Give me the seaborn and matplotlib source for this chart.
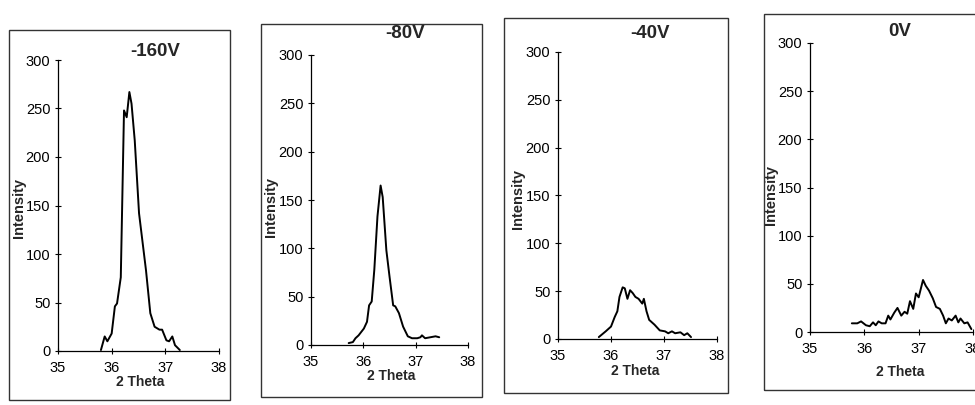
import numpy as np
import pandas as pd
import matplotlib
matplotlib.use("Agg")
import matplotlib.pyplot as plt
import seaborn as sns
from matplotlib.patches import Rectangle

# ---- data ----
titles = ["-160V", "-80V", "-40V", "0V"]

theta_160 = [35.80, 35.87, 35.92, 36.00, 36.06, 36.10, 36.17, 36.23, 36.28, 36.33, 36.37,
             36.43, 36.51, 36.64, 36.72, 36.80, 36.89, 36.94, 37.02, 37.07, 37.13, 37.18, 37.27]
int_160 = [1, 15, 10, 18, 46, 49, 76, 248, 241, 267, 255,
           217, 142, 83, 39, 25, 22, 22, 11, 10, 15, 6, 1]

theta_80 = [35.72, 35.80, 35.85, 35.91, 36.01, 36.07, 36.11, 36.16, 36.21, 36.27, 36.33,
            36.37, 36.44, 36.50, 36.57, 36.61, 36.68, 36.76, 36.85, 36.93, 37.03, 37.09,
            37.12, 37.18, 37.28, 37.38, 37.45]
int_80 = [2, 3, 7, 10, 17, 24, 41, 45, 78, 133, 165,
          153, 98, 71, 41, 40, 33, 19, 9, 7, 7, 8,
          10, 7, 8, 9, 8]

theta_40 = [35.77, 35.90, 36.00, 36.07, 36.12, 36.16, 36.22, 36.26, 36.31, 36.36, 36.41,
            36.46, 36.52, 36.59, 36.62, 36.67, 36.72, 36.82, 36.92, 37.02, 37.08, 37.15,
            37.21, 37.31, 37.38, 37.44, 37.51]
int_40 = [2, 8, 13, 23, 29, 44, 54, 53, 42, 51, 48,
          44, 42, 37, 42, 29, 20, 15, 9, 8, 6, 8,
          6, 7, 4, 6, 2]

theta_0 = [35.77, 35.87, 35.94, 36.03, 36.10, 36.16, 36.21, 36.26, 36.32, 36.39, 36.44,
           36.48, 36.55, 36.61, 36.68, 36.74, 36.79, 36.84, 36.90, 36.95, 37.00, 37.08,
           37.13, 37.19, 37.26, 37.32, 37.39, 37.45, 37.50, 37.55, 37.61, 37.68, 37.73,
           37.77, 37.84, 37.90, 37.97]
int_0 = [9, 9, 11, 7, 6, 10, 7, 11, 9, 9, 17,
         13, 20, 25, 17, 21, 19, 32, 24, 40, 36, 54,
         48, 43, 35, 26, 24, 17, 9, 14, 12, 17, 10,
         14, 9, 10, 3]

x_ticks = [35, 36, 37, 38]
y_ticks = [0, 50, 100, 150, 200, 250, 300]

series = [(theta_160, int_160), (theta_80, int_80), (theta_40, int_40), (theta_0, int_0)]

# ---- layout (pixels) ----
W, H = 975, 405
# axes: x35, x38, y0, y300
axes_px = [(58, 219, 351, 60), (311, 468, 345, 55), (558, 717, 339, 52), (810, 973, 332, 43)]
# frames: left, top, right, bottom
frames_px = [(9, 30, 230, 400), (261, 24, 482, 397), (504, 18, 728, 393), (764, 14, 1000, 390)]
title_px = [(155, 52), (405, 34), (650, 33), (900, 32)]
ylabel_px = [(19, 208), (271, 207), (518, 199), (771, 195)]
xlabel_px = [(140, 382), (391, 376), (635, 371), (900, 372)]

sns.set_theme(style="white")
plt.rcParams['font.family'] = ['Liberation Sans', 'DejaVu Sans']

fig = plt.figure(figsize=(W / 100, H / 100), dpi=100)
fig.patch.set_facecolor("white")

for i, ((xs, ys), (xa, xb, y0, y3), fr, tp, yl, xl, title) in enumerate(
        zip(series, axes_px, frames_px, title_px, ylabel_px, xlabel_px, titles)):
    # panel frame
    l, t, r, b = fr
    fig.add_artist(Rectangle((l / W, 1 - b / H), (r - l) / W, (b - t) / H,
                             transform=fig.transFigure, fill=False,
                             edgecolor="#333333", linewidth=1.0))
    ax = fig.add_axes([xa / W, 1 - y0 / H, (xb - xa) / W, (y0 - y3) / H])
    ax.set_facecolor("none")
    df = pd.DataFrame({"2 Theta": xs, "Intensity": ys})
    sns.lineplot(data=df, x="2 Theta", y="Intensity", ax=ax, color="black",
                 linewidth=1.4, estimator=None, sort=False)
    ax.set_xlim(35, 38)
    ax.set_ylim(0, 300)
    ax.set_xticks(x_ticks)
    ax.set_yticks(y_ticks)
    ax.set_xticklabels([str(v) for v in x_ticks], fontsize=10.5)
    ax.set_yticklabels([str(v) for v in y_ticks], fontsize=10.5)
    ax.tick_params(axis="both", direction="inout", length=5, width=0.8,
                   colors="black", bottom=True, left=True)
    ax.tick_params(axis="x", pad=5)
    ax.tick_params(axis="y", pad=3)
    for s in ["top", "right"]:
        ax.spines[s].set_visible(False)
    for s in ["left", "bottom"]:
        ax.spines[s].set_color("black")
        ax.spines[s].set_linewidth(0.9)
    ax.set_xlabel("2 Theta", fontsize=10, fontweight="bold")
    ax.set_ylabel("Intensity", fontsize=10.5, fontweight="bold")
    ax.xaxis.set_label_coords((xl[0] - xa) / (xb - xa), (y0 - xl[1]) / (y0 - y3))
    ax.xaxis.label.set_va("center")
    ax.yaxis.set_label_coords((yl[0] - xa) / (xb - xa), (y0 - yl[1]) / (y0 - y3))
    ax.yaxis.label.set_va("center")
    ax.grid(False)
    fig.text(tp[0] / W, 1 - tp[1] / H, title, ha="center", va="center",
             fontsize=13.5, fontweight="bold")

fig.savefig("out.png", dpi=100, facecolor="white")
